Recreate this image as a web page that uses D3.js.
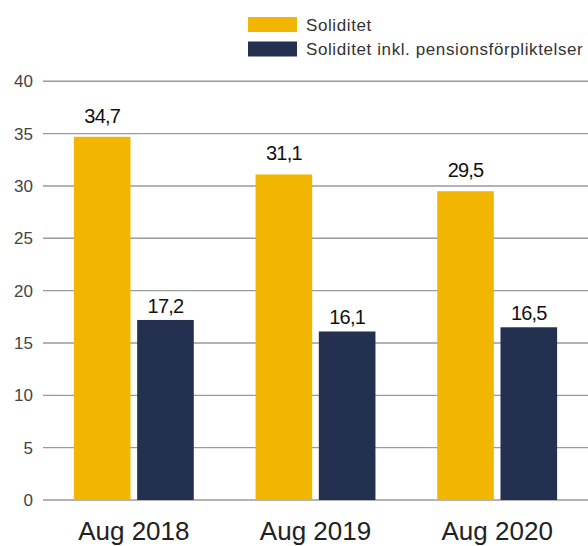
<!DOCTYPE html>
<html><head><meta charset="utf-8">
<script src="https://cdn.jsdelivr.net/npm/d3@7"></script>
<style>
html,body{margin:0;padding:0;background:#fff;}
svg{display:block;font-family:"Liberation Sans",Arial,Helvetica,sans-serif;}
</style></head>
<body>
<svg id="c" width="588" height="546"></svg>
<script>
const categories = ["Aug 2018", "Aug 2019", "Aug 2020"];
const seriesNames = ["Soliditet", "Soliditet inkl. pensionsförpliktelser"];
const soliditet = [34.7, 31.1, 29.5];
const soliditetInkl = [17.2, 16.1, 16.5];
const yTicks = [0, 5, 10, 15, 20, 25, 30, 35, 40];

const colors = ["#F2B600", "#243050"];
const labelGap = [14, 7];
const series = [soliditet, soliditetInkl];

const svg = d3.select("#c");
const y = d3.scaleLinear().domain([0, 40]).range([500, 81.3]);
const x0 = d3.scaleBand().domain(categories).range([43, 588]).paddingInner(0.34).paddingOuter(0.17);
const x1 = d3.scaleBand().domain([0, 1]).range([0, x0.bandwidth()]).paddingInner(0.105);

// gridlines + y axis
const yAxis = d3.axisLeft(y).tickValues(yTicks).tickSize(0).tickPadding(10).tickFormat(d3.format("d"));
const ga = svg.append("g").attr("transform", "translate(43,0)").call(yAxis);
ga.select(".domain").remove();
ga.selectAll("text").attr("font-size", 17).attr("fill", "#444").attr("font-family", "Liberation Sans, Arial, sans-serif");
svg.append("g").selectAll("line").data(yTicks).join("line")
  .attr("x1", 43).attr("x2", 588)
  .attr("y1", d => y(d)).attr("y2", d => y(d))
  .attr("stroke", "#9a9a9a").attr("stroke-width", 1.4);

// bars
const groups = svg.append("g").selectAll("g").data(categories).join("g")
  .attr("transform", d => `translate(${x0(d)},0)`);
groups.selectAll("rect").data((d, i) => series.map((s, k) => ({k, v: s[i]}))).join("rect")
  .attr("x", d => x1(d.k)).attr("width", x1.bandwidth())
  .attr("y", d => y(d.v)).attr("height", d => y(0) - y(d.v))
  .attr("fill", d => colors[d.k]);
groups.selectAll("text").data((d, i) => series.map((s, k) => ({k, v: s[i]}))).join("text")
  .attr("x", d => x1(d.k) + x1.bandwidth() / 2)
  .attr("y", d => y(d.v) - labelGap[d.k])
  .attr("text-anchor", "middle").attr("font-size", 20).attr("letter-spacing", -0.8)
  .attr("fill", "#111")
  .text(d => d3.format(".1f")(d.v).replace(".", ","));

// x axis labels
const xAxis = d3.axisBottom(x0).tickSize(0).tickPadding(0);
const gx = svg.append("g").attr("transform", "translate(0,500)").call(xAxis);
gx.select(".domain").remove();
gx.selectAll("text").attr("font-size", 26).attr("fill", "#222").attr("dy", null).attr("y", 40)
  .attr("font-family", "Liberation Sans, Arial, sans-serif");

// legend
const lg = svg.append("g").selectAll("g").data(seriesNames).join("g")
  .attr("transform", (d, i) => `translate(248,${17 + i * 24.5})`);
lg.append("rect").attr("width", 49).attr("height", 15).attr("fill", (d, i) => colors[i]);
lg.append("text").attr("x", 58).attr("y", 13.5).attr("font-size", 17).attr("letter-spacing", 0.6)
  .attr("fill", "#333").text(d => d);
</script>
</body></html>
